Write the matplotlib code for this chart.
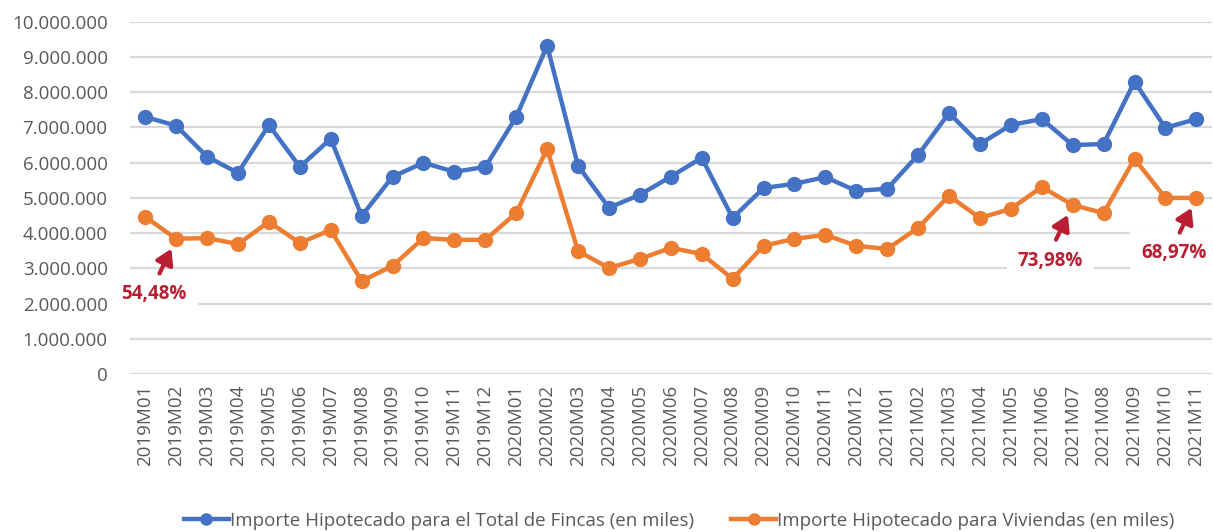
import matplotlib.pyplot as plt
from matplotlib.ticker import FuncFormatter

# ----- data (values in thousands of euros) -----
months = [
    "2019M01", "2019M02", "2019M03", "2019M04", "2019M05", "2019M06",
    "2019M07", "2019M08", "2019M09", "2019M10", "2019M11", "2019M12",
    "2020M01", "2020M02", "2020M03", "2020M04", "2020M05", "2020M06",
    "2020M07", "2020M08", "2020M09", "2020M10", "2020M11", "2020M12",
    "2021M01", "2021M02", "2021M03", "2021M04", "2021M05", "2021M06",
    "2021M07", "2021M08", "2021M09", "2021M10", "2021M11",
]
total_fincas = [
    7300000, 7050000, 6170000, 5710000, 7070000, 5880000,
    6680000, 4490000, 5600000, 6000000, 5740000, 5880000,
    7300000, 9320000, 5910000, 4720000, 5090000, 5600000,
    6140000, 4430000, 5280000, 5400000, 5590000, 5200000,
    5260000, 6220000, 7410000, 6530000, 7070000, 7240000,
    6500000, 6530000, 8300000, 6990000, 7240000,
]
viviendas = [
    4460000, 3840000, 3860000, 3690000, 4320000, 3720000,
    4090000, 2640000, 3070000, 3860000, 3810000, 3810000,
    4570000, 6390000, 3490000, 3010000, 3270000, 3580000,
    3410000, 2700000, 3640000, 3840000, 3950000, 3640000,
    3550000, 4150000, 5060000, 4430000, 4690000, 5310000,
    4800000, 4570000, 6110000, 5000000, 5000000,
]
# (month label, ratio text) for the red call-outs on the housing series
callouts = [("2019M02", "54,48%"), ("2021M07", "73,98%"), ("2021M11", "68,97%")]

label_total = "Importe Hipotecado para el Total de Fincas (en miles)"
label_viv = "Importe Hipotecado para Viviendas (en miles)"

BLUE = "#4472C4"
ORANGE = "#ED7D31"
RED = "#B81D30"
GREY = "#595959"

plt.rcParams["font.family"] = ["Open Sans", "DejaVu Sans"]

fig = plt.figure(figsize=(12.13, 5.32), dpi=100)
ax = fig.add_axes([0.107, 0.297, 0.892, 0.662])

x = list(range(len(months)))
ax.plot(x, total_fincas, color=BLUE, lw=3.2, marker="o", ms=10, label=label_total, zorder=3)
ax.plot(x, viviendas, color=ORANGE, lw=3.2, marker="o", ms=10, label=label_viv, zorder=3)

ax.set_xlim(-0.5, len(months) - 0.5)
ax.set_ylim(0, 10000000)
ax.set_yticks(range(0, 10000001, 1000000))
ax.yaxis.set_major_formatter(FuncFormatter(lambda v, _: f"{int(v):,}".replace(",", ".")))
ax.set_xticks(x)
ax.set_xticklabels(months, rotation=90)
ax.tick_params(axis="y", length=0, colors=GREY, labelsize=13.5, pad=16)
ax.tick_params(axis="x", length=0, colors=GREY, labelsize=13.5, pad=8)

ax.grid(axis="y", color="#D9D9D9", lw=1.6)
ax.set_axisbelow(True)
for s in ax.spines.values():
    s.set_visible(False)

# ----- red call-outs -----
for month, txt in callouts:
    i = months.index(month)
    v = viviendas[i]
    ax.annotate(txt, xy=(i, v), xytext=(-16, -40), textcoords="offset points",
                ha="center", va="center", color=RED, fontsize=13.5, fontweight="bold",
                bbox=dict(boxstyle="square,pad=0.6", fc="white", ec="none"), zorder=4)
    ax.annotate("", xy=(i, v), xytext=(-12, -25), textcoords="offset points",
                arrowprops=dict(arrowstyle="-|>,head_length=0.9,head_width=0.55",
                                color=RED, lw=3, shrinkA=0, shrinkB=8), zorder=5)

fig.legend(loc="lower center", bbox_to_anchor=(0.56, -0.028), ncol=2, frameon=False,
           fontsize=13.5, labelcolor=GREY, handlelength=2.4, handletextpad=0.05,
           columnspacing=2.0, markerscale=0.8)

fig.savefig("out.png", dpi=100)
